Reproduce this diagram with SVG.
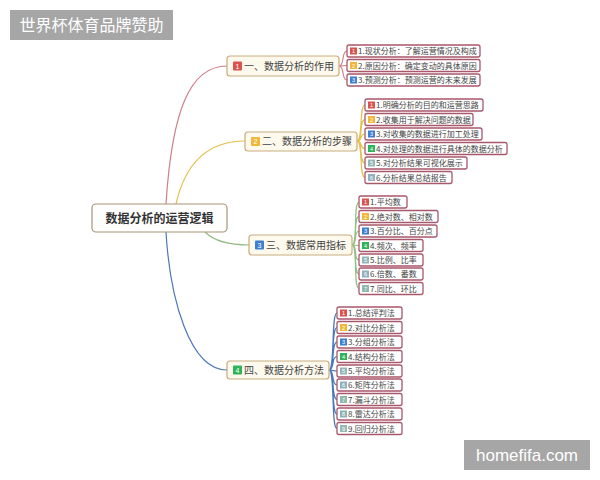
<svg xmlns="http://www.w3.org/2000/svg" width="600" height="480" viewBox="0 0 600 480">
<style>
.cjk{font-family:"Noto Sans CJK SC","Noto Sans",sans-serif}
.root{fill:#fefefe;stroke:#a89378;stroke-width:1.2}
.root-t{font-size:12px;font-weight:bold;fill:#333;text-anchor:middle}
.br{fill:#fdf9ec;stroke:#c9ab7e;stroke-width:1.2}
.br-t{font-size:10px;fill:#444}
.ch{fill:#fff;stroke:#a9576b;stroke-width:1.3}
.ch-t{font-size:8px;fill:#444}
.ic-n{font-family:"Liberation Sans",sans-serif;fill:#fff;text-anchor:middle}
.c1{fill:#d9534f}.c2{fill:#f0b73a}.c3{fill:#3f7fcf}.c4{fill:#2fb35a}.c5{fill:#93b7b8}.c6{fill:#93afc0}.c7{fill:#8fb8ae}.c8{fill:#8cb2b4}.c9{fill:#95b9b3}
.ln{fill:none;stroke-width:1.2}
.lr{stroke:#cf7f8a}.ly{stroke:#e2c04a}.lg{stroke:#95bd84}.lb{stroke:#4a78b8}
</style>
<rect width="600" height="480" fill="#fff"/>
<g id="title"><rect x="10" y="10" width="163" height="30" fill="#a6a6a6"/><text x="91.5" y="31" class="cjk" font-size="16" fill="#fff" text-anchor="middle">世界杯体育品牌赞助</text></g>
<g id="connectors">
<path class="ln lr" d="M166,204 C172,110 190,66 227,66"/>
<path class="ln ly" d="M176,204 C186,160 210,141 245,141"/>
<path class="ln lg" d="M205,232 C215,242 230,245 249,245"/>
<path class="ln lb" d="M166,232 C170,300 190,370 227,370"/>
<path class="ln lr" d="M339,66 C345,66 341,51 347,51 M339,66 C345,66 341,65.5 347,65.5 M339,66 C345,66 341,80 347,80"/>
<path class="ln ly" d="M357,141 C363,141 359,105 365,105 M357,141 C363,141 359,119.5 365,119.5 M357,141 C363,141 359,134 365,134 M357,141 C363,141 359,148.5 365,148.5 M357,141 C363,141 359,163 365,163 M357,141 C363,141 359,177.5 365,177.5"/>
<path class="ln lg" d="M352,245 C358,245 353,202 359,202 M352,245 C358,245 353,216.5 359,216.5 M352,245 C358,245 353,231 359,231 M352,245 C358,245 353,245.5 359,245.5 M352,245 C358,245 353,260 359,260 M352,245 C358,245 353,274 359,274 M352,245 C358,245 353,288.5 359,288.5"/>
<path class="ln lb" d="M329,370 C335,370 331,313 337,313 M329,370 C335,370 331,327.5 337,327.5 M329,370 C335,370 331,342 337,342 M329,370 C335,370 331,356.5 337,356.5 M329,370 C335,370 331,371 337,371 M329,370 C335,370 331,385 337,385 M329,370 C335,370 331,399.5 337,399.5 M329,370 C335,370 331,414 337,414 M329,370 C335,370 331,428.5 337,428.5"/>
</g>
<g id="root"><rect class="root" x="92" y="204" width="135" height="28" rx="4"/><text class="cjk root-t" x="159.5" y="222.5">数据分析的运营逻辑</text></g>
<g id="b1"><rect class="br" x="227" y="56" width="112" height="20" rx="3"/><rect class="c1" x="233" y="61.5" width="9" height="9" rx="1"/><text class="ic-n" x="237.5" y="68.5" font-size="7">1</text><text class="cjk br-t" x="244" y="69.5">一、数据分析的作用</text></g>
<g id="b1c1"><rect class="ch" x="347" y="45" width="133" height="12" rx="2"/><rect class="c1" x="350" y="47.5" width="7" height="7"/><text class="ic-n" x="353.5" y="53.2" font-size="5.5">1</text><text class="cjk ch-t" x="358" y="54">1.现状分析：了解运营情况及构成</text></g>
<g id="b1c2"><rect class="ch" x="347" y="59.5" width="133" height="12" rx="2"/><rect class="c2" x="350" y="62" width="7" height="7"/><text class="ic-n" x="353.5" y="67.7" font-size="5.5">2</text><text class="cjk ch-t" x="358" y="68.5">2.原因分析：确定变动的具体原因</text></g>
<g id="b1c3"><rect class="ch" x="347" y="74" width="133" height="12" rx="2"/><rect class="c3" x="350" y="76.5" width="7" height="7"/><text class="ic-n" x="353.5" y="82.2" font-size="5.5">3</text><text class="cjk ch-t" x="358" y="83">3.预测分析：预测运营的未来发展</text></g>
<g id="b2"><rect class="br" x="245" y="132" width="112" height="19" rx="3"/><rect class="c2" x="251" y="137" width="9" height="9" rx="1"/><text class="ic-n" x="255.5" y="144" font-size="7">2</text><text class="cjk br-t" x="262" y="145">二、数据分析的步骤</text></g>
<g id="b2c1"><rect class="ch" x="365" y="99" width="118" height="12" rx="2"/><rect class="c1" x="368" y="101.5" width="7" height="7"/><text class="ic-n" x="371.5" y="107.2" font-size="5.5">1</text><text class="cjk ch-t" x="376" y="108">1.明确分析的目的和运营思路</text></g>
<g id="b2c2"><rect class="ch" x="365" y="113.5" width="108" height="12" rx="2"/><rect class="c2" x="368" y="116" width="7" height="7"/><text class="ic-n" x="371.5" y="121.7" font-size="5.5">2</text><text class="cjk ch-t" x="376" y="122.5">2.收集用于解决问题的数据</text></g>
<g id="b2c3"><rect class="ch" x="365" y="128" width="117" height="12" rx="2"/><rect class="c3" x="368" y="130.5" width="7" height="7"/><text class="ic-n" x="371.5" y="136.2" font-size="5.5">3</text><text class="cjk ch-t" x="376" y="137">3.对收集的数据进行加工处理</text></g>
<g id="b2c4"><rect class="ch" x="365" y="142.5" width="142" height="12" rx="2"/><rect class="c4" x="368" y="145" width="7" height="7"/><text class="ic-n" x="371.5" y="150.7" font-size="5.5">4</text><text class="cjk ch-t" x="376" y="151.5">4.对处理的数据进行具体的数据分析</text></g>
<g id="b2c5"><rect class="ch" x="365" y="157" width="102" height="12" rx="2"/><rect class="c5" x="368" y="159.5" width="7" height="7"/><text class="ic-n" x="371.5" y="165.2" font-size="5.5">5</text><text class="cjk ch-t" x="376" y="166">5.对分析结果可视化展示</text></g>
<g id="b2c6"><rect class="ch" x="365" y="171.5" width="87" height="12" rx="2"/><rect class="c6" x="368" y="174" width="7" height="7"/><text class="ic-n" x="371.5" y="179.7" font-size="5.5">6</text><text class="cjk ch-t" x="376" y="180.5">6.分析结果总结报告</text></g>
<g id="b3"><rect class="br" x="249" y="235" width="103" height="20" rx="3"/><rect class="c3" x="255" y="240.5" width="9" height="9" rx="1"/><text class="ic-n" x="259.5" y="247.5" font-size="7">3</text><text class="cjk br-t" x="266" y="248.5">三、数据常用指标</text></g>
<g id="b3c1"><rect class="ch" x="359" y="196" width="48" height="12" rx="2"/><rect class="c1" x="362" y="198.5" width="7" height="7"/><text class="ic-n" x="365.5" y="204.2" font-size="5.5">1</text><text class="cjk ch-t" x="370" y="205">1.平均数</text></g>
<g id="b3c2"><rect class="ch" x="359" y="210.5" width="79" height="12" rx="2"/><rect class="c2" x="362" y="213" width="7" height="7"/><text class="ic-n" x="365.5" y="218.7" font-size="5.5">2</text><text class="cjk ch-t" x="370" y="219.5">2.绝对数、相对数</text></g>
<g id="b3c3"><rect class="ch" x="359" y="225" width="78" height="12" rx="2"/><rect class="c3" x="362" y="227.5" width="7" height="7"/><text class="ic-n" x="365.5" y="233.2" font-size="5.5">3</text><text class="cjk ch-t" x="370" y="234">3.百分比、百分点</text></g>
<g id="b3c4"><rect class="ch" x="359" y="239.5" width="64" height="12" rx="2"/><rect class="c4" x="362" y="242" width="7" height="7"/><text class="ic-n" x="365.5" y="247.7" font-size="5.5">4</text><text class="cjk ch-t" x="370" y="248.5">4.频次、频率</text></g>
<g id="b3c5"><rect class="ch" x="359" y="254" width="64" height="12" rx="2"/><rect class="c5" x="362" y="256.5" width="7" height="7"/><text class="ic-n" x="365.5" y="262.2" font-size="5.5">5</text><text class="cjk ch-t" x="370" y="263">5.比例、比率</text></g>
<g id="b3c6"><rect class="ch" x="359" y="268" width="64" height="12" rx="2"/><rect class="c6" x="362" y="270.5" width="7" height="7"/><text class="ic-n" x="365.5" y="276.2" font-size="5.5">6</text><text class="cjk ch-t" x="370" y="277">6.倍数、番数</text></g>
<g id="b3c7"><rect class="ch" x="359" y="282.5" width="64" height="12" rx="2"/><rect class="c7" x="362" y="285" width="7" height="7"/><text class="ic-n" x="365.5" y="290.7" font-size="5.5">7</text><text class="cjk ch-t" x="370" y="291.5">7.同比、环比</text></g>
<g id="b4"><rect class="br" x="227" y="361" width="102" height="18" rx="3"/><rect class="c4" x="233" y="365.5" width="9" height="9" rx="1"/><text class="ic-n" x="237.5" y="372.5" font-size="7">4</text><text class="cjk br-t" x="244" y="373.5">四、数据分析方法</text></g>
<g id="b4c1"><rect class="ch" x="337" y="307" width="65" height="12" rx="2"/><rect class="c1" x="340" y="309.5" width="7" height="7"/><text class="ic-n" x="343.5" y="315.2" font-size="5.5">1</text><text class="cjk ch-t" x="348" y="316">1.总结评判法</text></g>
<g id="b4c2"><rect class="ch" x="337" y="321.5" width="65" height="12" rx="2"/><rect class="c2" x="340" y="324" width="7" height="7"/><text class="ic-n" x="343.5" y="329.7" font-size="5.5">2</text><text class="cjk ch-t" x="348" y="330.5">2.对比分析法</text></g>
<g id="b4c3"><rect class="ch" x="337" y="336" width="65" height="12" rx="2"/><rect class="c3" x="340" y="338.5" width="7" height="7"/><text class="ic-n" x="343.5" y="344.2" font-size="5.5">3</text><text class="cjk ch-t" x="348" y="345">3.分组分析法</text></g>
<g id="b4c4"><rect class="ch" x="337" y="350.5" width="65" height="12" rx="2"/><rect class="c4" x="340" y="353" width="7" height="7"/><text class="ic-n" x="343.5" y="358.7" font-size="5.5">4</text><text class="cjk ch-t" x="348" y="359.5">4.结构分析法</text></g>
<g id="b4c5"><rect class="ch" x="337" y="365" width="65" height="12" rx="2"/><rect class="c5" x="340" y="367.5" width="7" height="7"/><text class="ic-n" x="343.5" y="373.2" font-size="5.5">5</text><text class="cjk ch-t" x="348" y="374">5.平均分析法</text></g>
<g id="b4c6"><rect class="ch" x="337" y="379" width="65" height="12" rx="2"/><rect class="c6" x="340" y="381.5" width="7" height="7"/><text class="ic-n" x="343.5" y="387.2" font-size="5.5">6</text><text class="cjk ch-t" x="348" y="388">6.矩阵分析法</text></g>
<g id="b4c7"><rect class="ch" x="337" y="393.5" width="65" height="12" rx="2"/><rect class="c7" x="340" y="396" width="7" height="7"/><text class="ic-n" x="343.5" y="401.7" font-size="5.5">7</text><text class="cjk ch-t" x="348" y="402.5">7.漏斗分析法</text></g>
<g id="b4c8"><rect class="ch" x="337" y="408" width="65" height="12" rx="2"/><rect class="c8" x="340" y="410.5" width="7" height="7"/><text class="ic-n" x="343.5" y="416.2" font-size="5.5">8</text><text class="cjk ch-t" x="348" y="417">8.雷达分析法</text></g>
<g id="b4c9"><rect class="ch" x="337" y="422.5" width="65" height="12" rx="2"/><rect class="c9" x="340" y="425" width="7" height="7"/><text class="ic-n" x="343.5" y="430.7" font-size="5.5">9</text><text class="cjk ch-t" x="348" y="431.5">9.回归分析法</text></g>
<g id="watermark"><rect x="464" y="440" width="126" height="30" fill="#a6a6a6"/><text x="527" y="461" font-family="Liberation Sans,sans-serif" font-size="17" fill="#fff" text-anchor="middle">homefifa.com</text></g>
</svg>
